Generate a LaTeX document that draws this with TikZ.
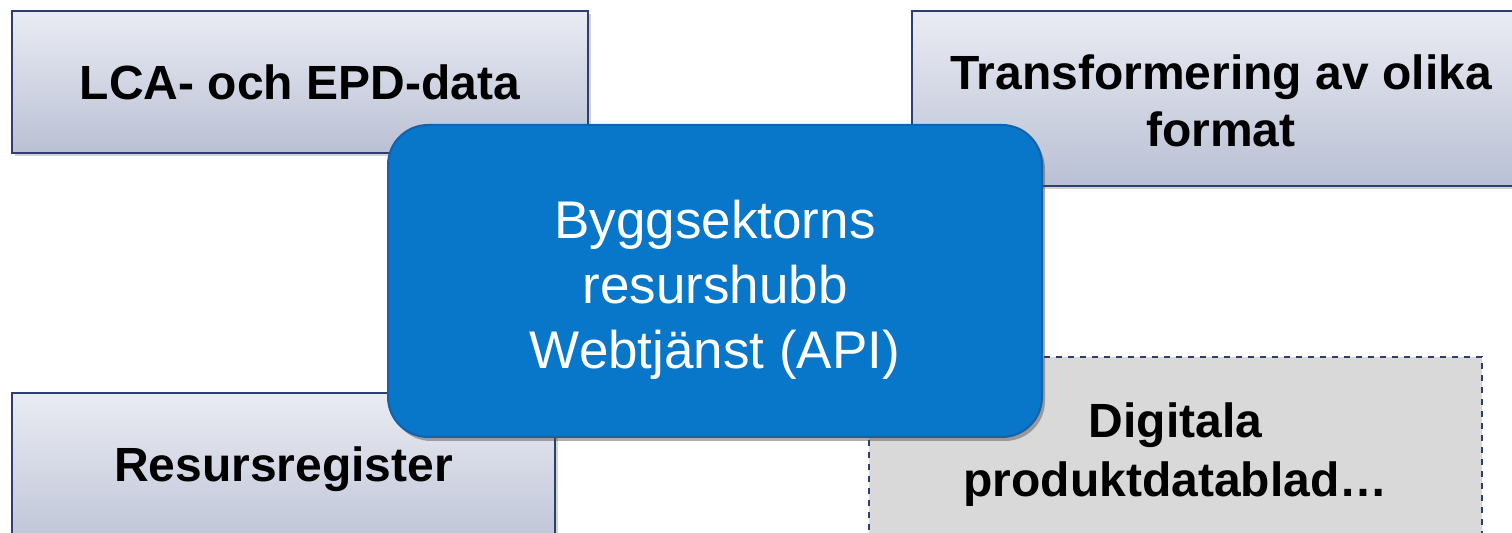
\documentclass[tikz,border=0pt]{standalone}
\usepackage{fontspec}
\setmainfont{Liberation Sans}
\usetikzlibrary{shadows}
\definecolor{navy}{RGB}{46,62,110}
\definecolor{gtop}{RGB}{234,236,243}
\definecolor{gbot}{RGB}{186,192,212}
\definecolor{hubblue}{RGB}{8,118,201}
\definecolor{hubedge}{RGB}{20,98,170}
\definecolor{dashfill}{RGB}{217,217,217}
\tikzset{
  gradbox/.style={draw=navy, line width=1pt, top color=gtop, bottom color=gbot,
    inner sep=0pt,
    drop shadow={shadow xshift=1.5pt, shadow yshift=-1.5pt, opacity=0.35, fill=gray}},
  dashbox/.style={draw=navy, dashed, line width=0.8pt, fill=dashfill, inner sep=0pt},
  hub/.style={draw=hubedge, line width=1pt, fill=hubblue, rounded corners=20pt,
    inner sep=0pt,
    drop shadow={shadow xshift=1.5pt, shadow yshift=-2pt, opacity=0.45, fill=black!70}},
  boldtext/.style={inner sep=0pt, align=center, font=\fontsize{24}{28.5}\selectfont\bfseries},
  hubtext/.style={inner sep=0pt, align=center, text=white, font=\fontsize{26.5}{32.5}\selectfont}
}
\begin{document}
\begin{tikzpicture}[x=0.5pt,y=-0.5pt]
\useasboundingbox (0,0) rectangle (1512,533);
\clip (0,0) rectangle (1512,533);
\node[gradbox, minimum width=288pt, minimum height=71pt] (lca) at (300,82) {};
\node[boldtext] (lcat) at (lca.center) {LCA- och EPD-data};
\node[gradbox, minimum width=309pt, minimum height=87.5pt] (trans) at (1221,98.5) {};
\node[boldtext] (transt) at ([yshift=-1pt]trans.center) {Transformering av olika\\ format};
\node[gradbox, minimum width=271.5pt, minimum height=83.5pt] (res) at (283.5,476.5) {};
\node[boldtext] (rest) at ([yshift=3.5pt]res.center) {Resursregister};
\node[dashbox, minimum width=306.5pt, minimum height=101.5pt] (dig) at (1175.5,458.5) {};
\node[boldtext, font=\fontsize{24}{29.5}\selectfont\bfseries] (digt) at ([yshift=2pt]dig.center) {Digitala\\ produktdatablad…};
\node[hub, minimum width=327pt, minimum height=156pt] (hub) at (715,281) {};
\node[hubtext] (hubt) at ([yshift=-4.5pt]hub.center) {Byggsektorns\\ resurshubb\\ Webtjänst (API)};
\end{tikzpicture}
\end{document}
